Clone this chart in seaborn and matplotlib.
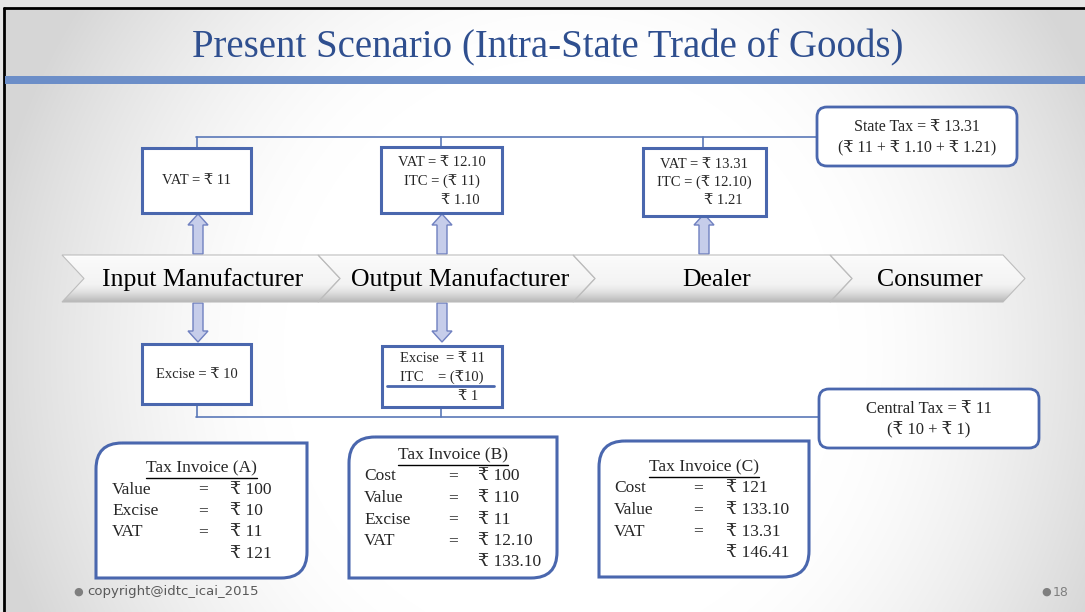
import numpy as np
import matplotlib
matplotlib.use("Agg")
import matplotlib.pyplot as plt
import seaborn as sns
from matplotlib.patches import Polygon, Rectangle, FancyBboxPatch, PathPatch
from matplotlib.path import Path

sns.set_theme(style="white")
plt.rcParams['font.family'] = ['Liberation Serif', 'DejaVu Serif', 'DejaVu Sans']

# ---- slide content ----
title = "Present Scenario (Intra-State Trade of Goods)"
stages = ["Input Manufacturer", "Output Manufacturer", "Dealer", "Consumer"]

vat_lines = [["VAT = ₹ 11"],
             ["VAT = ₹ 12.10", "ITC = (₹ 11)"],
             ["VAT = ₹ 13.31", "ITC = (₹ 12.10)"]]
vat_net = ["", "₹ 1.10", "₹ 1.21"]

excise_lines = [["Excise = ₹ 10"],
                ["Excise  = ₹ 11", "ITC    = (₹10)"]]
excise_net = ["", "₹ 1"]

state_tax = ["State Tax = ₹ 13.31", "(₹ 11 + ₹ 1.10 + ₹ 1.21)"]
central_tax = ["Central Tax = ₹ 11", "(₹ 10 + ₹ 1)"]

invoice_titles = ["Tax Invoice (A)", "Tax Invoice (B)", "Tax Invoice (C)"]
invoice_labels = [["Value", "Excise", "VAT", ""],
                  ["Cost", "Value", "Excise", "VAT", ""],
                  ["Cost", "Value", "VAT", ""]]
invoice_values = [["₹ 100", "₹ 10", "₹ 11", "₹ 121"],
                  ["₹ 100", "₹ 110", "₹ 11", "₹ 12.10", "₹ 133.10"],
                  ["₹ 121", "₹ 133.10", "₹ 13.31", "₹ 146.41"]]

footer = "copyright@idtc_icai_2015"
page_no = "18"

# ---- layout (pixel coordinates, y downward) ----
W, H = 1085, 612
chev_x = [62, 318, 573, 830, 1003]
chev_top, chev_bot, chev_pt = 255, 302, 22
stage_cx = [203, 460, 717, 930]
up_boxes = [(142, 148, 251, 213), (381, 147, 502, 213), (643, 148, 766, 216)]
down_boxes = [(142, 344, 251, 404), (382, 346, 502, 407)]
arrow_x = [198, 442, 704]
invoice_boxes = [(96, 443, 307, 578), (349, 437, 557, 578), (599, 441, 809, 577)]
invoice_cols = [(112, 203, 230), (364, 453, 478), (614, 698, 726)]
invoice_y0 = [468, 455, 467]
row_h = 21.5

edge_blue = "#4a67ae"
line_blue = "#5a78b8"
title_blue = "#2f4f8f"

fig = plt.figure(figsize=(W / 100, H / 100), dpi=100)
fig.patch.set_facecolor("#e6e6e6")
ax = fig.add_axes([0, 0, 1, 1])
ax.set_xlim(0, W)
ax.set_ylim(H, 0)
ax.axis("off")

# background radial gradient: white centre, grey edges
yy, xx = np.mgrid[0:H, 0:W]
d = np.sqrt(((xx - 560) / 560.0) ** 2 + ((yy - 350) / 600.0) ** 2)
shade = 1.0 - 0.16 * np.clip((d - 0.5) / 0.55, 0, 1) ** 1.5
bg = np.dstack([shade, shade, shade])
ax.imshow(bg, extent=(4, W, H, 8), origin="upper", zorder=0, aspect="auto")
ax.plot([4, W], [8, 8], color="black", lw=2, zorder=1)
ax.plot([4, 4], [8, H], color="black", lw=2, zorder=1)

# title + bar
ax.text(548, 48, title, ha="center", va="center", fontsize=28, color=title_blue, zorder=5)
ax.add_patch(Rectangle((5, 76), W - 5, 8, facecolor="#6c8ec8", edgecolor="none", zorder=2))

# chevrons with a vertical white->grey gradient
g = np.linspace(0, 1, 80)
vcol = 0.985 - 0.05 * g - 0.22 * np.clip((g - 0.6) / 0.4, 0, 1) ** 1.6
vcol[:3] = 1.0
chev_rgb = np.dstack([np.repeat(vcol[:, None], 4, axis=1)] * 3)
for i, name in enumerate(stages):
    x0, x1 = chev_x[i], chev_x[i + 1]
    ym = (chev_top + chev_bot) / 2
    pts = [(x0, chev_top), (x1, chev_top), (x1 + chev_pt, ym), (x1, chev_bot),
           (x0, chev_bot), (x0 + chev_pt, ym)]
    poly = Polygon(pts, closed=True, facecolor="none", edgecolor="#bdbdbd", lw=0.8, zorder=4)
    ax.add_patch(poly)
    im = ax.imshow(chev_rgb, extent=(x0, x1 + chev_pt, chev_bot, chev_top),
                   origin="upper", aspect="auto", zorder=3)
    im.set_clip_path(poly)
    ax.text(stage_cx[i], ym + 1, name, ha="center", va="center", fontsize=18.5,
            color="black", zorder=5)

# connector lines
ax.plot([arrow_x[0] - 2, 817], [137, 137], color=line_blue, lw=1.2, zorder=2)
for bx in arrow_x:
    ax.plot([bx - 1, bx - 1], [137, 148], color=line_blue, lw=1.2, zorder=2)
ax.plot([arrow_x[0] - 2, 819], [417, 417], color=line_blue, lw=1.2, zorder=2)
for bx in arrow_x[:2]:
    ax.plot([bx - 1, bx - 1], [405, 417], color=line_blue, lw=1.2, zorder=2)


def block_arrow(cx, y_base, y_tip, head=11, hw=10, sw=5):
    s = 1 if y_tip > y_base else -1
    yh = y_tip - s * head
    pts = [(cx - sw, y_base), (cx - sw, yh), (cx - hw, yh), (cx, y_tip),
           (cx + hw, yh), (cx + sw, yh), (cx + sw, y_base)]
    ax.add_patch(Polygon(pts, closed=True, facecolor="#c6cdea", edgecolor="#6f80c0",
                         lw=1.0, zorder=3))


for bx in arrow_x:
    block_arrow(bx, chev_top - 1, 214)
for bx in arrow_x[:2]:
    block_arrow(bx, chev_bot + 1, 342)


def square_box(b):
    x0, y0, x1, y1 = b
    ax.add_patch(Rectangle((x0, y0), x1 - x0, y1 - y0, facecolor="white",
                           edgecolor=edge_blue, lw=2.2, zorder=4))


# VAT boxes
for i, b in enumerate(up_boxes):
    square_box(b)
    cx = (b[0] + b[2]) / 2
    lines = vat_lines[i]
    if vat_net[i]:
        for k, s in enumerate(lines):
            ax.text(cx, b[1] + 16 + k * 18.5, s, ha="center", va="center", fontsize=10.5, zorder=5)
        ax.text(cx + 38, b[1] + 16 + 2 * 18.5, vat_net[i], ha="right", va="center",
                fontsize=10.5, zorder=5)
    else:
        ax.text(cx, (b[1] + b[3]) / 2, lines[0], ha="center", va="center", fontsize=10.5, zorder=5)

# Excise boxes
for i, b in enumerate(down_boxes):
    square_box(b)
    cx = (b[0] + b[2]) / 2
    lines = excise_lines[i]
    if excise_net[i]:
        for k, s in enumerate(lines):
            ax.text(cx, b[1] + 12 + k * 19.5, s, ha="center", va="center", fontsize=10.5, zorder=5)
        ax.plot([b[0] + 5, b[2] - 8], [386, 386], color=edge_blue, lw=2, zorder=5)
        ax.text(cx + 36, 396, excise_net[i], ha="right", va="center", fontsize=10.5, zorder=5)
    else:
        ax.text(cx, (b[1] + b[3]) / 2, lines[0], ha="center", va="center", fontsize=10.5, zorder=5)

# State / Central tax boxes
for lines, (x0, y0, x1, y1), fs in [(state_tax, (817, 107, 1017, 166), 11.5),
                                    (central_tax, (819, 389, 1039, 448), 12)]:
    ax.add_patch(FancyBboxPatch((x0, y0), x1 - x0, y1 - y0,
                                boxstyle="round,pad=0,rounding_size=10",
                                facecolor="white", edgecolor=edge_blue, lw=2.0, zorder=4))
    cx = (x0 + x1) / 2
    ax.text(cx, y0 + 20, lines[0], ha="center", va="center", fontsize=fs, zorder=5)
    ax.text(cx, y0 + 41, lines[1], ha="center", va="center", fontsize=fs, zorder=5)


def invoice_shape(x0, y0, x1, y1, r=26):
    verts = [(x0 + r, y0), (x1, y0), (x1, y1 - r), (x1, y1), (x1 - r, y1),
             (x0, y1), (x0, y0 + r), (x0, y0), (x0 + r, y0)]
    codes = [Path.MOVETO, Path.LINETO, Path.LINETO, Path.CURVE3, Path.CURVE3,
             Path.LINETO, Path.LINETO, Path.CURVE3, Path.CURVE3]
    return PathPatch(Path(verts, codes), facecolor="white", edgecolor=edge_blue,
                     lw=2.2, zorder=4)


fig.canvas.draw()
renderer = fig.canvas.get_renderer()
inv = ax.transData.inverted()
for i, b in enumerate(invoice_boxes):
    ax.add_patch(invoice_shape(*b))
    cl, ce, cv = invoice_cols[i]
    cx = (b[0] + b[2]) / 2
    t = ax.text(cx, invoice_y0[i], invoice_titles[i], ha="center", va="center",
                fontsize=12.5, zorder=5)
    bb = t.get_window_extent(renderer=renderer)
    (ux0, _), (ux1, _) = inv.transform([(bb.x0, 0), (bb.x1, 0)])
    ax.plot([ux0, ux1], [invoice_y0[i] + 10, invoice_y0[i] + 10], color="black", lw=1.0, zorder=5)
    for k, (lab, val) in enumerate(zip(invoice_labels[i], invoice_values[i])):
        y = invoice_y0[i] + (k + 1) * row_h
        if lab:
            ax.text(cl, y, lab, ha="left", va="center", fontsize=12.5, zorder=5)
            ax.text(ce, y, "=", ha="center", va="center", fontsize=12.5, zorder=5)
        ax.text(cv, y, val, ha="left", va="center", fontsize=12.5, zorder=5)

# footer
ax.text(78, 592, "●", ha="center", va="center", fontsize=8, color="#7f7f7f",
        family="DejaVu Sans", zorder=5)
ax.text(87, 592, footer, ha="left", va="center", fontsize=9.5, color="#595959",
        family="DejaVu Sans", zorder=5)
ax.text(1046, 592, "●", ha="center", va="center", fontsize=8, color="#7f7f7f",
        family="DejaVu Sans", zorder=5)
ax.text(1053, 592, page_no, ha="left", va="center", fontsize=9, color="#7f7f7f",
        family="DejaVu Sans", zorder=5)

fig.savefig("out.png", dpi=100)
